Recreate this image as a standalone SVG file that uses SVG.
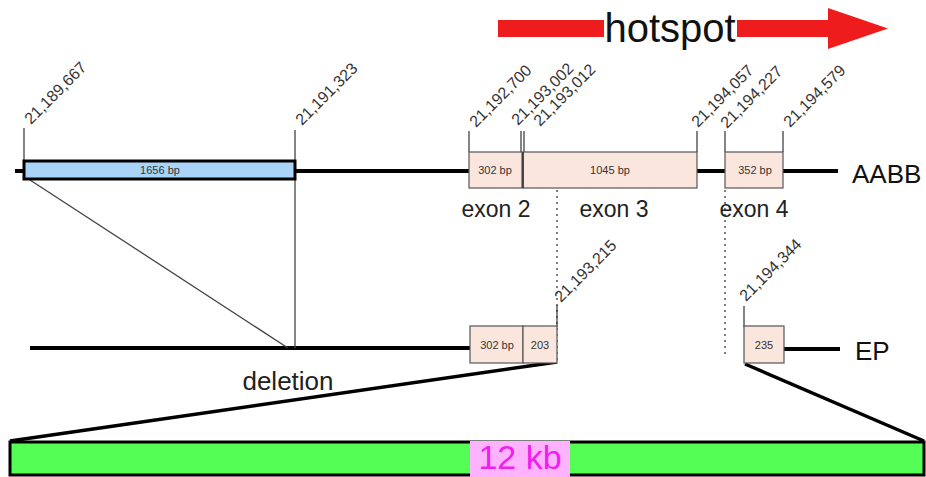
<svg xmlns="http://www.w3.org/2000/svg" width="926" height="477" viewBox="0 0 926 477">
<style>
text{font-family:"Liberation Sans",Arial,sans-serif}
.coord{font-size:16px;fill:#333}
.bp{font-size:11px;fill:#333;text-anchor:middle}
.exonlbl{font-size:23px;fill:#222;text-anchor:middle}
.big{font-size:26px;fill:#111}
.main{stroke:#000;stroke-width:4;fill:none}
.tick{stroke:#333;stroke-width:1.2;fill:none}
.thin{stroke:#444;stroke-width:1.3;fill:none}
.dot{stroke:#555;stroke-width:1.5;stroke-dasharray:2 4;fill:none}
.exon{fill:#fbe6de;stroke:#555;stroke-width:1.2}
</style>
<rect width="926" height="477" fill="#fff"/>

<g id="hotspot">
<rect x="498" y="20" width="106" height="17" fill="#ee1c1c"/>
<rect x="737" y="20" width="93" height="17" fill="#ee1c1c"/>
<polygon points="828,8 888,28.5 828,49" fill="#ee1c1c"/>
<text x="670" y="42" font-size="40" fill="#111" text-anchor="middle">hotspot</text>
</g>

<g id="connectors">
<line class="main" x1="15" y1="171" x2="24" y2="171"/>
<line class="main" x1="296" y1="171" x2="469" y2="171"/>
<line class="main" x1="697" y1="171" x2="725" y2="171"/>
<line class="main" x1="783" y1="171" x2="838" y2="171"/>
<line class="main" x1="30" y1="348" x2="470" y2="348"/>
<line class="main" x1="784" y1="349" x2="840" y2="349"/>
<line class="thin" x1="30" y1="180" x2="288" y2="348"/>
<line class="thin" x1="295" y1="180" x2="295" y2="348"/>
<line class="dot" x1="557" y1="190" x2="557" y2="363"/>
<line class="dot" x1="725" y1="190" x2="725" y2="354"/>
<line stroke="#000" stroke-width="3.5" x1="557" y1="362" x2="10" y2="441"/>
<line stroke="#000" stroke-width="3.5" x1="745" y1="364" x2="924" y2="441"/>
</g>

<g id="ticks">
<line class="tick" x1="24" y1="128" x2="24" y2="161"/>
<line class="tick" x1="295" y1="130" x2="295" y2="161"/>
<line class="tick" x1="469" y1="131" x2="469" y2="152"/>
<line class="tick" x1="521" y1="131" x2="521" y2="152"/>
<line class="tick" x1="524" y1="131" x2="524" y2="152"/>
<line class="tick" x1="697" y1="131" x2="697" y2="152"/>
<line class="tick" x1="725" y1="131" x2="725" y2="152"/>
<line class="tick" x1="783" y1="131" x2="783" y2="152"/>
<line class="tick" x1="557" y1="305" x2="557" y2="327"/>
<line class="tick" x1="744" y1="306" x2="744" y2="327"/>
</g>

<g id="coords">
<text class="coord" transform="translate(31,125) rotate(-45)">21,189,667</text>
<text class="coord" transform="translate(302,126) rotate(-45)">21,191,323</text>
<text class="coord" transform="translate(476,128) rotate(-45)">21,192,700</text>
<text class="coord" transform="translate(518,126) rotate(-45)">21,193,002</text>
<text class="coord" transform="translate(540,127) rotate(-45)">21,193,012</text>
<text class="coord" transform="translate(698,128) rotate(-45)">21,194,057</text>
<text class="coord" transform="translate(727,129) rotate(-45)">21,194,227</text>
<text class="coord" transform="translate(790,128) rotate(-45)">21,194,579</text>
<text class="coord" transform="translate(561,303) rotate(-45)">21,193,215</text>
<text class="coord" transform="translate(746,302) rotate(-45)">21,194,344</text>
</g>

<g id="deleted-region">
<rect x="24" y="161" width="271" height="18" fill="#a9d3f7" stroke="#000" stroke-width="3"/>
<text class="bp" x="160" y="174">1656 bp</text>
</g>

<g id="exon2">
<rect class="exon" x="469" y="152" width="53" height="36"/>
<text class="bp" x="495" y="174">302 bp</text>
</g>
<g id="exon3">
<rect class="exon" x="523" y="152" width="174" height="36"/>
<line stroke="#333" stroke-width="1.5" x1="523" y1="152" x2="523" y2="188"/>
<text class="bp" x="610" y="174">1045 bp</text>
</g>
<g id="exon4">
<rect class="exon" x="725" y="152" width="58" height="36"/>
<text class="bp" x="755" y="174">352 bp</text>
</g>

<g id="labels">
<text class="exonlbl" x="496" y="217">exon 2</text>
<text class="exonlbl" x="614" y="217">exon 3</text>
<text class="exonlbl" x="754" y="217">exon 4</text>
<text class="big" x="852" y="183">AABB</text>
<text class="big" x="855" y="360">EP</text>
<text x="288" y="390" font-size="26" fill="#222" text-anchor="middle">deletion</text>
</g>

<g id="ep-exon2">
<rect class="exon" x="470" y="326" width="53" height="37"/>
<text class="bp" x="497" y="349">302 bp</text>
</g>
<g id="ep-exon3">
<rect class="exon" x="523" y="326" width="34" height="37"/>
<text class="bp" x="540" y="349">203</text>
</g>
<g id="ep-exon4">
<rect class="exon" x="744" y="326" width="40" height="37"/>
<text class="bp" x="764" y="349">235</text>
</g>

<g id="kb12">
<rect x="10" y="442" width="914" height="33" fill="#55fe55" stroke="#000" stroke-width="3"/>
<rect x="470" y="441" width="100" height="36" fill="#ffb3ff"/>
<text x="520" y="469" font-size="34" fill="#f01ef0" text-anchor="middle">12 kb</text>
</g>
</svg>
